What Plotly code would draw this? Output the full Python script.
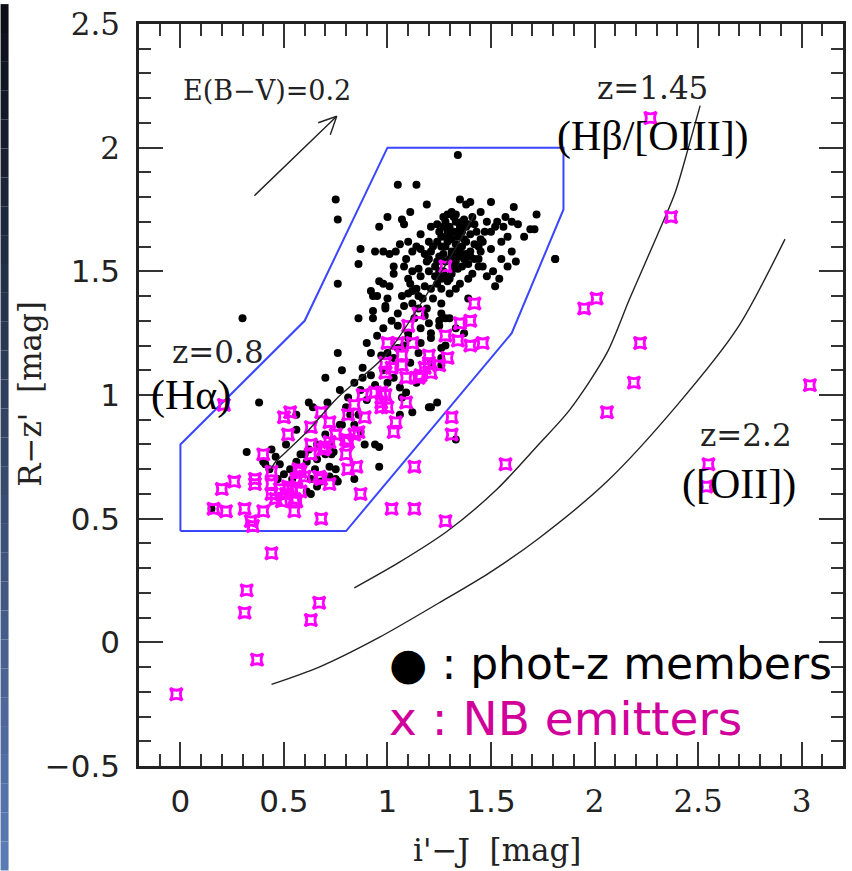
import plotly.graph_objects as go

# ---------------- data ----------------
phot_x = [0.75,0.76,1.05,1.14,1.11,1.00,1.07,1.08,0.96,1.06,0.87,0.94,0.98,1.01,1.04,1.09,0.86,1.03,1.08,1.12,
          1.03,0.76,0.96,0.98,1.01,1.10,1.11,0.92,0.93,0.95,1.00,1.07,1.10,1.14,1.34,1.19,1.35,1.38,1.40,1.50,
          1.61,1.72,1.45,1.31,1.27,1.32,1.37,1.39,1.53,1.57,1.52,1.56,1.50,1.43,1.69,1.71,1.21,1.16,1.20,1.25,
          1.29,1.34,1.37,1.45,1.16,1.21,1.28,1.31,1.34,1.40,1.45,1.50,1.55,1.62,1.81,1.19,1.24,1.33,1.37,1.44,
          1.44,1.15,1.20,1.31,1.34,1.51,1.41,1.16,1.23,1.29,1.39,1.52,1.17,1.21,1.26,1.30,1.33,
          1.28,1.30,1.33,1.35,1.31,1.33,1.36,1.29,1.26,1.38,1.35,1.30,1.27,1.32,1.36,1.39,1.27,1.30,1.24,1.35,
          1.40,1.42,1.24,
          0.30,0.86,0.93,0.93,0.76,0.78,0.92,0.97,0.70,0.88,0.77,0.38,0.62,0.71,0.64,0.56,0.80,0.86,
          1.22,0.99,1.19,1.26,1.26,1.28,1.30,1.25,1.39,1.05,1.13,1.20,1.16,1.21,1.33,1.37,1.16,1.26,1.00,1.11,
          1.26,1.21,1.03,1.14,1.06,1.07,1.24,1.21,1.12,1.06,1.33,
          0.32,0.44,0.46,0.41,0.48,0.51,0.56,0.56,0.61,0.54,0.65,0.70,0.73,0.77,0.84,0.89,0.94,0.75,0.72,0.75,
          0.84,0.96,0.61,0.63,0.66,0.87,0.40,0.43,0.60,0.66,0.72,0.68,0.63,0.76,0.72,0.74,0.96,1.20,0.15,
          0.99,1.12,0.88,0.92,1.00,0.81,1.09,1.25,1.10,1.21,1.05,1.15,1.28,1.26,1.81,
          1.22,1.24,1.26,1.28,1.30,1.32,1.34,1.36,1.38,1.36,1.33,1.29,1.27,1.25,1.28,1.31,1.33,1.35,1.38,1.40,
          1.42,1.44,1.46,1.47,1.48,1.42,1.41,1.26,1.28,1.25,1.23,1.20,1.18,1.14,1.12,1.10,1.18,1.15,1.12,1.08,
          1.05,1.02,0.98,0.95,0.90,1.15,1.18,1.10,1.08,1.03,0.98,0.94,0.90,0.87,0.84,0.82,0.78,0.70,0.66,0.62,
          0.58,0.53,0.50,0.47,1.46,1.48,1.55,1.58,1.60,1.63,1.66,1.54,1.58,1.60]
phot_y = [1.79,1.71,1.85,1.85,1.74,1.72,1.71,1.69,1.68,1.61,1.59,1.58,1.58,1.57,1.58,1.55,1.53,1.52,1.52,1.50,
          1.49,1.45,1.46,1.45,1.44,1.47,1.45,1.42,1.40,1.40,1.39,1.40,1.41,1.43,1.97,1.77,1.79,1.77,1.78,1.78,
          1.76,1.73,1.74,1.74,1.72,1.72,1.71,1.69,1.70,1.72,1.68,1.68,1.66,1.66,1.67,1.67,1.68,1.65,1.62,1.66,
          1.66,1.66,1.63,1.63,1.59,1.58,1.60,1.58,1.59,1.58,1.58,1.59,1.55,1.54,1.55,1.54,1.54,1.54,1.55,1.55,
          1.52,1.51,1.50,1.49,1.51,1.50,1.49,1.48,1.48,1.46,1.47,1.44,1.39,1.43,1.43,1.41,1.43,
          1.70,1.68,1.70,1.68,1.63,1.61,1.60,1.62,1.64,1.62,1.56,1.55,1.57,1.52,1.52,1.53,1.50,1.47,1.45,1.45,
          1.65,1.61,1.69,
          1.31,1.31,1.34,1.31,1.17,1.10,1.17,1.16,1.07,1.07,1.02,0.97,0.97,0.97,0.95,0.92,0.95,0.92,
          1.39,1.35,1.35,1.37,1.33,1.31,1.31,1.30,1.39,1.28,1.31,1.29,1.27,1.25,1.27,1.25,1.21,1.19,1.17,1.13,
          1.12,1.13,1.07,1.05,1.03,0.99,0.97,0.95,0.93,0.92,0.82,
          0.77,0.78,0.75,0.72,0.72,0.80,0.86,0.73,0.73,0.66,0.70,0.76,0.76,0.88,0.88,0.80,0.80,0.70,0.67,0.66,
          0.66,0.71,0.61,0.60,0.63,0.85,0.73,0.70,0.76,0.74,0.71,0.65,0.66,0.65,0.80,0.77,0.79,0.95,0.54,
          1.36,1.37,1.11,1.08,1.05,0.99,1.01,1.28,1.23,1.23,1.19,1.17,1.20,1.15,1.55,
          1.60,1.62,1.60,1.64,1.65,1.66,1.64,1.66,1.68,1.70,1.73,1.73,1.68,1.56,1.54,1.57,1.56,1.58,1.57,1.56,
          1.55,1.60,1.62,1.66,1.70,1.69,1.72,1.47,1.48,1.50,1.52,1.55,1.57,1.60,1.58,1.62,1.44,1.40,1.42,1.36,
          1.33,1.30,1.27,1.24,1.21,1.35,1.32,1.25,1.20,1.15,1.10,1.04,0.98,1.02,1.05,0.92,0.88,0.84,0.80,0.78,
          0.76,0.70,0.68,0.66,1.52,1.48,1.62,1.64,1.70,1.69,1.64,1.47,1.52,1.58]

nb_x = [0.52,0.40,0.44,0.63,0.63,0.69,0.72,0.80,0.84,0.86,0.80,0.81,0.85,0.58,0.60,0.56,0.67,0.72,0.20,0.26,
        0.36,0.44,0.48,0.46,0.51,0.54,0.55,0.56,0.49,0.16,0.22,0.31,0.40,0.34,0.35,0.55,0.68,0.87,1.02,1.04,
        1.03,0.44,1.13,1.13,0.50,0.53,0.68,0.72,0.63,1.09,1.28,
        1.28,1.15,1.10,1.00,1.05,1.12,1.28,0.99,1.07,1.20,1.07,1.16,1.25,0.99,0.88,0.94,0.99,0.97,0.84,0.81,
        0.89,1.42,1.40,1.35,1.34,1.40,1.46,1.20,1.29,1.02,1.18,1.21,1.09,1.15,0.97,1.00,1.31,1.31,
        1.57,0.32,0.31,0.37,-0.02,0.67,0.63,2.01,1.95,2.22,2.19,2.06,2.37,2.27,3.04,2.55,2.54,0.21,
        0.81,0.97,0.75,0.70,0.68,0.57,0.56,0.58,0.52,0.44,0.36]
nb_y = [0.84,0.76,0.69,0.80,0.76,0.78,0.81,0.82,0.84,0.85,0.76,0.70,0.71,0.69,0.67,0.66,0.67,0.64,0.62,0.65,
        0.64,0.60,0.62,0.58,0.60,0.62,0.58,0.57,0.57,0.54,0.53,0.54,0.53,0.49,0.47,0.53,0.50,0.60,0.54,0.89,
        0.85,0.36,0.54,0.71,0.91,0.93,0.93,0.89,0.87,0.97,0.49,
        1.52,1.33,1.28,1.21,1.21,1.21,1.24,1.13,1.16,1.13,1.12,1.08,1.12,1.09,1.00,1.01,1.00,0.95,0.96,0.92,
        0.91,1.37,1.30,1.29,1.22,1.20,1.21,1.16,1.15,1.11,1.11,1.09,1.07,1.07,1.01,0.95,0.91,0.84,
        0.72,0.21,0.12,-0.07,-0.21,0.16,0.09,1.39,1.35,1.21,1.05,0.93,1.72,2.12,1.04,0.72,0.63,0.96,
        0.81,0.97,0.84,0.79,0.66,0.70,0.65,0.61,0.63,0.64,0.66]

# selection region (blue polygon)
box_x = [0.0, 0.8, 1.6, 1.85, 1.85, 1.0, 0.6, 0.0, 0.0]
box_y = [0.45, 0.45, 1.25, 1.75, 2.0, 2.0, 1.3, 0.8, 0.45]

# model tracks
t08_x = [0.43, 0.46, 0.51, 0.61, 0.76, 0.99, 1.20, 1.32, 1.42]
t08_y = [0.69, 0.73, 0.77, 0.85, 0.99, 1.16, 1.42, 1.58, 1.73]
t145_x = [0.84, 1.05, 1.29, 1.53, 1.73, 1.88, 2.06, 2.17, 2.30, 2.39, 2.45, 2.51]
t145_y = [0.22, 0.32, 0.45, 0.62, 0.80, 0.94, 1.17, 1.39, 1.64, 1.82, 1.99, 2.17]
t22_x = [0.44, 0.67, 0.96, 1.25, 1.49, 1.73, 2.06, 2.40, 2.69, 2.92]
t22_y = [-0.17, -0.10, 0.02, 0.16, 0.28, 0.42, 0.65, 0.96, 1.27, 1.63]

# reddening vector
arrow_x = [0.35, 0.755]
arrow_y = [1.80, 2.127]

x_ticks = [0, 0.5, 1, 1.5, 2, 2.5, 3]
x_ticktext = ["0", "0.5", "1", "1.5"] + [f"<span style='font-family:DejaVu Serif'>{t}</span>" for t in ["2", "2.5", "3"]]
y_ticks = [-0.5, 0, 0.5, 1, 1.5, 2, 2.5]
y_ticktext = ["\u22120.5", "0", "0.5", "1", "1.5"] + [f"<span style='font-family:DejaVu Serif'>{t}</span>" for t in ["2", "2.5"]]
x_range = [-0.2, 3.2]
y_range = [-0.5, 2.5]

# ---------------- figure ----------------
fig = go.Figure()

fig.add_trace(go.Scatter(x=box_x, y=box_y, mode="lines",
                         line=dict(color="#3a46ff", width=2), hoverinfo="skip"))
fig.add_trace(go.Scatter(x=t145_x, y=t145_y, mode="lines",
                         line=dict(color="#222", width=1.4, shape="spline", smoothing=0.8)))
fig.add_trace(go.Scatter(x=t22_x, y=t22_y, mode="lines",
                         line=dict(color="#222", width=1.4, shape="spline", smoothing=0.8)))
fig.add_trace(go.Scatter(x=phot_x, y=phot_y, mode="markers",
                         marker=dict(color="black", size=8, line=dict(width=0))))
fig.add_trace(go.Scatter(x=nb_x, y=nb_y, mode="markers",
                         marker=dict(symbol="star-square-open", color="#ff00ff", size=11,
                                     line=dict(width=2.8, color="#ff00ff"))))
fig.add_trace(go.Scatter(x=t08_x, y=t08_y, mode="lines",
                         line=dict(color="#222", width=1.4, shape="spline", smoothing=0.8)))
# carrier for the minor-tick overlay axes
fig.add_trace(go.Scatter(x=[x_range[0]], y=[y_range[0]], xaxis="x3", yaxis="y3",
                         mode="markers", marker=dict(opacity=0), hoverinfo="skip"))

# arrow (shaft + open head)
fig.add_annotation(x=arrow_x[1], y=arrow_y[1], ax=arrow_x[0], ay=arrow_y[0],
                   xref="x", yref="y", axref="x", ayref="y", text="",
                   showarrow=True, arrowhead=0, arrowwidth=1.4, arrowcolor="#222")
fig.add_annotation(x=arrow_x[1], y=arrow_y[1], ax=-20, ay=7, xref="x", yref="y", text="",
                   showarrow=True, arrowhead=0, arrowwidth=1.4, arrowcolor="#222", standoff=0, startstandoff=0)
fig.add_annotation(x=arrow_x[1], y=arrow_y[1], ax=-7, ay=20, xref="x", yref="y", text="",
                   showarrow=True, arrowhead=0, arrowwidth=1.4, arrowcolor="#222", standoff=0, startstandoff=0)

serif = "DejaVu Serif"
times = "Liberation Serif"
texts = [
    ("E(B\u2212V)=0.2", 0.42, 2.23, serif, 27, "#222"),
    ("z=1.45", 2.28, 2.24, serif, 31, "#222"),
    ("(H\u03b2/[OIII])", 2.28, 2.045, times, 42, "black"),
    ("z=0.8", 0.18, 1.175, serif, 31, "#222"),
    ("(H\u03b1)", 0.05, 1.0, times, 42, "black"),
    ("z=2.2", 2.73, 0.84, serif, 31, "#222"),
    ("([OII])", 2.70, 0.64, times, 42, "black"),
]
for t, x, y, f, s, c in texts:
    fig.add_annotation(x=x, y=y, xref="x", yref="y", text=t, showarrow=False,
                       font=dict(family=f, size=s, color=c), xanchor="center", yanchor="middle")

fig.add_annotation(x=1.0, y=-0.086, xref="x", yref="y", text="\u25cf : phot-z members", showarrow=False,
                   font=dict(family="DejaVu Sans", size=44, color="black"), xanchor="left", yanchor="middle")
fig.add_annotation(x=1.0, y=-0.307, xref="x", yref="y", text="x : NB emitters", showarrow=False,
                   font=dict(family="DejaVu Sans", size=47, color="#d1009b"), xanchor="left", yanchor="middle")

# axis titles
fig.add_annotation(x=0.508, y=-0.113, xref="paper", yref="paper", text="i'\u2212J  [mag]", showarrow=False,
                   font=dict(family=serif, size=31, color="#222"), xanchor="center", yanchor="middle")
fig.add_annotation(x=-0.154, y=0.501, xref="paper", yref="paper", text="R\u2212z'  [mag]", showarrow=False,
                   textangle=-90, font=dict(family=serif, size=31, color="#222"), xanchor="center", yanchor="middle")

# left slide-edge gradient band
top = (10, 13, 20)
bot = (92, 124, 182)
n = 30
for i in range(n):
    f0 = i / n
    col = tuple(int(top[k] + (bot[k] - top[k]) * (f0 + 0.5 / n)) for k in range(3))
    fig.add_shape(type="rect", xref="paper", yref="paper",
                  x0=-139 / 707, x1=-131 / 707,
                  y0=(766 - 871 * (i + 1) / n) / 746, y1=(766 - 871 * i / n) / 746,
                  fillcolor="rgb(%d,%d,%d)" % col, line=dict(width=0), layer="below")

major_axis = dict(showgrid=False, zeroline=False, showline=True, linecolor="#222", linewidth=2.5,
                  mirror="allticks", ticks="inside", ticklen=24, tickwidth=2, tickcolor="#333",
                  tickfont=dict(family="DejaVu Sans", size=31, color="#222"))
minor_axis = dict(showgrid=False, zeroline=False, showline=False, mirror="allticks", ticks="inside",
                  ticklen=12, tickwidth=2, tickcolor="#333", showticklabels=False,
                  tickmode="linear", tick0=0, dtick=0.1)
fig.update_layout(
    xaxis=dict(range=x_range, tickmode="array", tickvals=x_ticks, ticktext=x_ticktext,
               ticklabelstandoff=6, **major_axis),
    yaxis=dict(range=y_range, tickmode="array", tickvals=y_ticks, ticktext=y_ticktext,
               ticklabelstandoff=10, **major_axis),
    xaxis3=dict(range=x_range, overlaying="x", anchor="y3", side="bottom", **minor_axis),
    yaxis3=dict(range=y_range, overlaying="y", anchor="x3", side="left", **minor_axis),
    width=852, height=871, margin=dict(l=139, r=6, t=20, b=105),
    paper_bgcolor="white", plot_bgcolor="white", showlegend=False)

fig.write_html("out.html")
